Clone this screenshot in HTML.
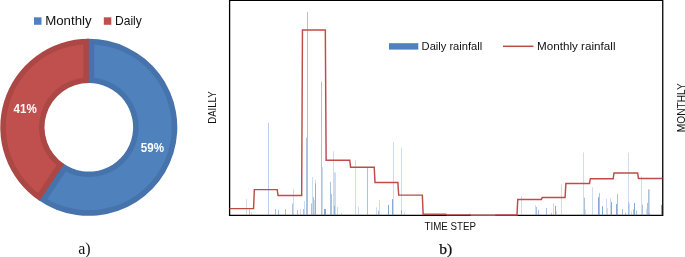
<!DOCTYPE html>
<html>
<head>
<meta charset="utf-8">
<title>Rainfall charts</title>
<style>
html,body{margin:0;padding:0;background:#fff;}
body{width:685px;height:257px;overflow:hidden;}
svg{display:block;}
text{font-family:"Liberation Sans",sans-serif;fill:#111;}
.serif{font-family:"Liberation Serif",serif;fill:#111;}
.lbl{font-weight:bold;fill:#fff;}
</style>
</head>
<body>
<svg width="685" height="257" viewBox="0 0 685 257">
<rect x="0" y="0" width="685" height="257" fill="#fff"/>
<!-- donut -->
<path d="M86.95,38.82 A88.5,88.5 0 1 1 37.99,199.76 L63.37,163.57 A44.3,44.3 0 1 0 87.87,83.01 Z" fill="#4673AB"/>
<path d="M39.52,200.81 A88.5,88.5 0 0 1 88.80,38.80 L88.80,83.00 A44.3,44.3 0 0 0 64.13,164.10 Z" fill="#AB4744"/>
<path d="M94.30,44.48 A83.0,83.0 0 1 1 47.25,199.15 L65.81,171.47 A49.8,49.8 0 1 0 94.30,77.80 Z" fill="#4F81BD"/>
<path d="M38.11,193.03 A83.0,83.0 0 0 1 83.30,44.48 L83.30,77.80 A49.8,49.8 0 0 0 56.67,165.35 Z" fill="#C0504D"/>
<text class="lbl" x="13.6" y="113" font-size="12" textLength="23.2" lengthAdjust="spacingAndGlyphs">41%</text>
<text class="lbl" x="140.8" y="151.7" font-size="12" textLength="23.2" lengthAdjust="spacingAndGlyphs">59%</text>
<!-- donut legend -->
<rect x="34" y="17.3" width="7.5" height="7.5" fill="#4F81BD"/>
<text x="45.2" y="24.8" font-size="12.2" textLength="46.4" lengthAdjust="spacingAndGlyphs">Monthly</text>
<rect x="103.8" y="17.3" width="7.5" height="7.5" fill="#C0504D"/>
<text x="115" y="24.8" font-size="12.2" textLength="26.8" lengthAdjust="spacingAndGlyphs">Daily</text>
<text class="serif" x="78.2" y="253.7" font-size="16">a)</text>
<!-- chart -->
<path d="M229.6,0V215.4H662.75V0" fill="none" stroke="#000" stroke-width="1.3"/><path d="M229,0.5H663" stroke="#000" stroke-width="1.1"/>
<path d="M246.5,215.2V199.1M251.5,215.2V212.0M293.5,215.2V189.0M300.5,215.2V209.0M304.5,215.2V201.0M312.5,215.2V177.0M314.5,215.2V200.0M315.5,215.2V179.4M322.5,215.2V167.0M333.5,215.2V151.2M334.5,215.2V172.4M335.5,215.2V172.4M337.5,215.2V207.0M341.5,215.2V213.0M355.5,215.2V159.8M358.5,215.2V206.4M376.5,215.2V207.3M379.5,215.2V200.0M393.5,215.2V141.9M401.5,215.2V147.5M404.5,215.2V212.0M469.5,215.2V213.0M521.5,215.2V196.1M535.5,215.2V205.0M553.5,215.2V203.3M556.5,215.2V211.0M561.5,215.2V183.9M581.5,215.2V213.8M583.5,215.2V152.4M585.5,215.2V209.4M592.5,215.2V187.4M606.5,215.2V198.9M607.5,215.2V208.2M610.5,215.2V198.3M628.5,215.2V201.8M628.5,215.2V152.8M629.5,215.2V203.5M631.5,215.2V211.0M641.5,215.2V176.2M646.5,215.2V208.8M649.5,215.2V189.3M649.5,215.2V212.9" stroke="#4F81BD" stroke-opacity="0.28" stroke-width="1" fill="none"/>
<path d="M249.5,215.2V209.4M275.5,215.2V209.0M278.5,215.2V210.0M285.5,215.2V209.0M292.5,215.2V203.5M297.5,215.2V210.0M303.5,215.2V209.0M307.5,215.2V11.9M306.5,215.2V137.5M311.5,215.2V203.5M313.5,215.2V197.0M315.5,215.2V183.5M321.5,215.2V81.7M330.5,215.2V182.0M331.5,215.2V194.0M334.5,215.2V206.0M367.5,215.2V167.7M378.5,215.2V210.6M401.5,215.2V210.0M536.5,215.2V207.0M538.5,215.2V210.0M546.5,215.2V208.0M551.5,215.2V213.0M584.5,215.2V197.7M599.5,215.2V193.0M617.5,215.2V193.9M622.5,215.2V209.1M625.5,215.2V212.6M633.5,215.2V209.4M636.5,215.2V210.5M642.5,215.2V204.5M647.5,215.2V202.9M648.5,215.2V189.3" stroke="#4F81BD" stroke-opacity="0.48" stroke-width="1" fill="none"/>
<path d="M268.5,215.2V122.8" stroke="#4F81BD" stroke-opacity="0.38" stroke-width="1" fill="none"/>
<path d="M324.5,215.2V209.0M325.5,215.2V209.0M388.5,215.2V204.9M392.5,215.2V199.1M555.5,215.2V205.9M598.5,215.2V197.1M602.5,215.2V206.1M611.5,215.2V202.1M616.5,215.2V204.1M634.5,215.2V202.9M661.5,215.2V204.9" stroke="#4F81BD" stroke-opacity="0.68" stroke-width="1" fill="none"/>
<path d="M229.50,208.60 L253.56,208.60 L254.34,189.60 L277.22,189.60 L278.01,195.40 L301.67,195.40 L302.46,30.00 L325.33,30.00 L326.12,160.20 L349.78,160.20 L350.57,167.30 L374.23,167.30 L375.02,182.40 L397.89,182.40 L398.68,195.10 L422.34,195.10 L423.13,214.30 L446.00,214.30 L446.79,214.85 L470.45,214.85 L471.24,215.20 L494.90,215.20 L495.69,214.90 L516.98,214.90 L517.77,199.55 L541.43,199.55 L542.22,197.50 L565.09,197.50 L565.88,183.50 L589.54,183.50 L590.33,178.75 L613.21,178.75 L613.99,173.00 L637.66,173.00 L638.44,178.40 L662.50,178.40" fill="none" stroke="#BE4B48" stroke-width="1.45" stroke-linejoin="miter"/>
<!-- chart legend -->
<rect x="389" y="43.2" width="29.3" height="6.4" fill="#4F81BD"/>
<text x="421.6" y="50" font-size="11" textLength="60.6" lengthAdjust="spacingAndGlyphs">Daily rainfall</text>
<path d="M503,46.3H533.5" stroke="#BE4B48" stroke-width="1.5"/>
<text x="537" y="50" font-size="11" textLength="78.5" lengthAdjust="spacingAndGlyphs">Monthly rainfall</text>
<!-- axis titles -->
<text x="424.6" y="230" font-size="11" textLength="51.4" lengthAdjust="spacingAndGlyphs">TIME STEP</text>
<text transform="translate(216.2,123.7) rotate(-90)" font-size="11" textLength="32.2" lengthAdjust="spacingAndGlyphs">DAILLY</text>
<text transform="translate(685.2,132.2) rotate(-90)" font-size="11" textLength="49" lengthAdjust="spacingAndGlyphs">MONTHLY</text>
<text class="serif" x="439.2" y="253.9" font-size="15.4" stroke="#111" stroke-width="0.25" textLength="13" lengthAdjust="spacingAndGlyphs">b)</text>
</svg>
</body>
</html>
